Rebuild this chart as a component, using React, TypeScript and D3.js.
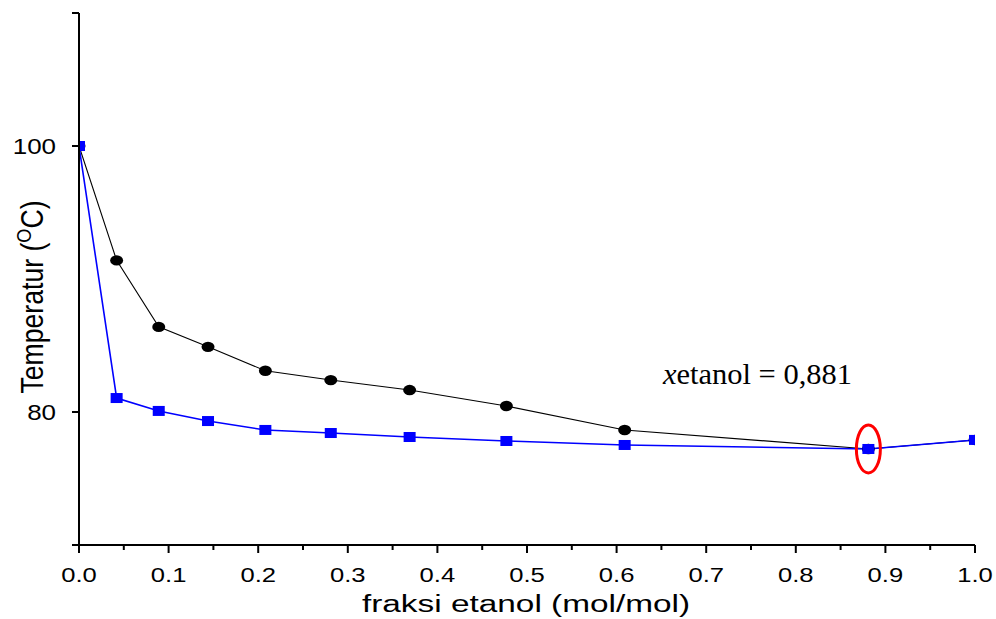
import React from "react";
import * as d3 from "d3";

const xVals = [0.0, 0.042, 0.089, 0.144, 0.208, 0.281, 0.369, 0.477, 0.609, 0.881, 1.0];
const vaporT = [100, 91.4, 86.4, 84.9, 83.1, 82.4, 81.65, 80.45, 78.65, 77.22, 77.9];
const liquidT = [100, 81.05, 80.08, 79.32, 78.65, 78.42, 78.12, 77.82, 77.52, 77.22, 77.9];
const xTicks = [0, 0.1, 0.2, 0.3, 0.4, 0.5, 0.6, 0.7, 0.8, 0.9, 1.0];
const xMinor = [0.05, 0.15, 0.25, 0.35, 0.45, 0.55, 0.65, 0.75, 0.85, 0.95];
const yTicks = [80, 100];
const azeotropeX = 0.881;
const azeotropeY = 77.22;

const W = 996, H = 619;
const L = 79, R = 975, T = 13, B = 545;

export default function App() {
  const x = d3.scaleLinear().domain([0, 1]).range([L, R]);
  const yy = d3.scaleLinear().domain([70, 110]).range([B, B - 40 * 13.3]);
  const line = d3.line<number>().x((_, i) => x(xVals[i])).y((d) => yy(d));
  const font = "Arial, 'Liberation Sans', sans-serif";
  return (
    <svg width={W} height={H} style={{ display: "block", position: "absolute", left: 0, top: 0 }}>
      <defs>
        <clipPath id="pc">
          <rect x={L} y={0} width={R - L} height={B} />
        </clipPath>
      </defs>
      <rect width={W} height={H} fill="#fff" />
      <g clipPath="url(#pc)">
        <path d={line(vaporT) || ""} fill="none" stroke="#000" strokeWidth={1.1} />
        <path d={line(liquidT) || ""} fill="none" stroke="#0000ff" strokeWidth={1.6} />
        {vaporT.map((v, i) => (
          <ellipse key={"c" + i} cx={x(xVals[i])} cy={yy(v)} rx={6.5} ry={5.2} fill="#000" />
        ))}
        {liquidT.map((v, i) => (
          <rect key={"s" + i} x={x(xVals[i]) - 6} y={yy(v) - 5} width={12} height={10} fill="#0000ff" />
        ))}
      </g>
      {/* axes */}
      <line x1={L} y1={T} x2={L} y2={B} stroke="#000" strokeWidth={2} />
      <line x1={L - 7} y1={B} x2={R} y2={B} stroke="#000" strokeWidth={2} />
      <line x1={L - 7} y1={T} x2={L} y2={T} stroke="#000" strokeWidth={2} />
      {yTicks.map((t) => (
        <g key={"yt" + t}>
          <line x1={L - 7} x2={L} y1={yy(t)} y2={yy(t)} stroke="#000" strokeWidth={2} />
          <g transform={`translate(${L - 23}, ${yy(t)}) scale(1.18,1)`}>
            <text x={0} y={0} dy="0.36em" textAnchor="end" fontFamily={font} fontSize={22}>
              {t}
            </text>
          </g>
        </g>
      ))}
      {xTicks.map((t) => (
        <g key={"xt" + t}>
          <line x1={x(t)} x2={x(t)} y1={B} y2={B + 8} stroke="#000" strokeWidth={2} />
          <g transform={`translate(${x(t)}, ${B + 37}) scale(1.22,1)`}>
            <text x={0} y={0} textAnchor="middle" fontFamily={font} fontSize={21}>
              {t.toFixed(1)}
            </text>
          </g>
        </g>
      ))}
      {xMinor.map((t) => (
        <line key={"xm" + t} x1={x(t)} x2={x(t)} y1={B} y2={B + 5} stroke="#000" strokeWidth={2} />
      ))}
      <g transform={`translate(526, 612) scale(1.42,1)`}>
        <text x={0} y={0} textAnchor="middle" fontFamily={font} fontSize={23.5}>
          fraksi etanol (mol/mol)
        </text>
      </g>
      <g transform={`translate(43, 297) scale(1.4,1) rotate(-90)`}>
        <text x={0} y={0} textAnchor="middle" fontFamily={font} fontSize={22} textLength={193} lengthAdjust="spacingAndGlyphs">
          Temperatur (<tspan baselineShift="super" fontSize={15}>O</tspan>C)
        </text>
      </g>
      <text x={663} y={384} fontFamily="'Liberation Serif', 'Times New Roman', serif" fontSize={28.5} textLength={189} lengthAdjust="spacingAndGlyphs">
        <tspan fontStyle="italic">x</tspan>etanol = 0,881
      </text>
      <ellipse cx={x(azeotropeX)} cy={yy(azeotropeY)} rx={12} ry={24} fill="none" stroke="#ff0000" strokeWidth={3} />
    </svg>
  );
}
